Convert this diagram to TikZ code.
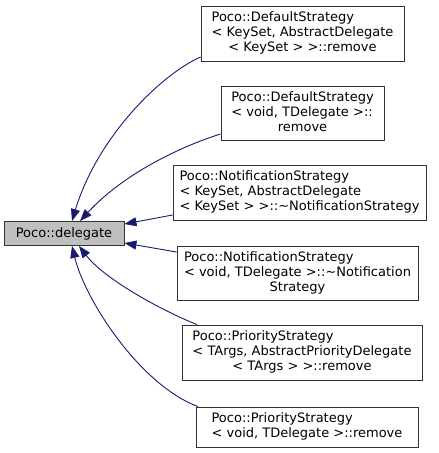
\documentclass[tikz,border=0pt]{standalone}
\usepackage{fontspec}
\setmainfont{DejaVu Sans}
\usepackage{tikz}
\usetikzlibrary{arrows.meta}

\definecolor{edgeblue}{HTML}{191970}
\definecolor{boxgray}{HTML}{BFBFBF}
\newcommand{\lastrow}[1]{\multicolumn{1}{@{}c@{}}{#1}}
\newcommand{\doxlabel}[1]{\begin{tabular}{@{}l@{}}#1\end{tabular}}

\begin{document}
\begin{tikzpicture}[x=1pt, y=-1pt, font=\fontsize{13}{15}\selectfont,
    memberbox/.style={draw=black!80, fill=white, line width=0.9pt, inner sep=0pt},
    calledge/.style={draw=edgeblue, line width=0.9pt, -{Triangle[length=12pt, width=9pt]}}]
    \useasboundingbox (0,0) rectangle (439,453);

    \node[memberbox, fill=boxgray, minimum width=120pt, minimum height=24pt] (dlg) at (64,233.5) {Poco::delegate};

    \node[memberbox, minimum width=203pt, minimum height=55pt] (dfltA) at (302.5,33.5)
        {\doxlabel{Poco::DefaultStrategy\\< KeySet, AbstractDelegate\\\lastrow{< KeySet > >::remove}}};
    \node[memberbox, minimum width=163pt, minimum height=54pt] (dfltB) at (302.5,113)
        {\doxlabel{Poco::DefaultStrategy\\< void, TDelegate >::\\\lastrow{remove}}};
    \node[memberbox, minimum width=253pt, minimum height=55pt] (notifA) at (299.5,192.5)
        {\doxlabel{Poco::NotificationStrategy\\< KeySet, AbstractDelegate\\\lastrow{< KeySet > >::\textasciitilde NotificationStrategy}}};
    \node[memberbox, minimum width=241pt, minimum height=54pt] (notifB) at (297.5,273)
        {\doxlabel{Poco::NotificationStrategy\\< void, TDelegate >::\textasciitilde Notification\\\lastrow{Strategy}}};
    \node[memberbox, minimum width=240pt, minimum height=55pt] (prioA) at (302,352.5)
        {\doxlabel{Poco::PriorityStrategy\\< TArgs, AbstractPriorityDelegate\\\lastrow{< TArgs > >::remove}}};
    \node[memberbox, minimum width=222pt, minimum height=40pt] (prioB) at (307,427)
        {\doxlabel{Poco::PriorityStrategy\\\lastrow{< void, TDelegate >::remove}}};

    % callers -> delegate
    \draw[calledge] ([yshift=-23.5pt]dfltA.west) .. controls (160,75) and (97,138) .. ([xshift=8pt]dlg.north);
    \draw[calledge] ([yshift=-21pt]dfltB.west) .. controls (185,145) and (125,172) .. ([xshift=16pt]dlg.north);
    \draw[calledge] ([yshift=-22.5pt]notifA.west) -- ([yshift=9.5pt]dlg.east);
    \draw[calledge] ([yshift=21pt]notifB.west) -- ([yshift=-9.5pt]dlg.east);
    \draw[calledge] ([xshift=-105pt]prioA.north) .. controls (165,312) and (105,280) .. ([xshift=15pt]dlg.south);
    \draw[calledge] ([xshift=-109pt]prioB.north) .. controls (140,385) and (85,300) .. ([xshift=8pt]dlg.south);
\end{tikzpicture}
\end{document}
